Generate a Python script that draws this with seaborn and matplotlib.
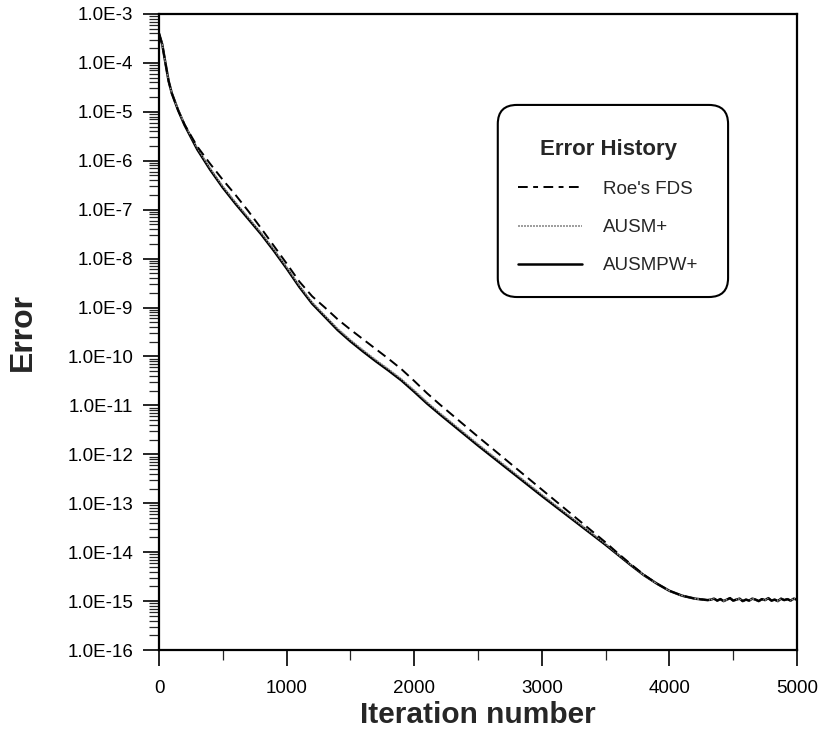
import numpy as np
import pandas as pd
import matplotlib
matplotlib.use("Agg")
import matplotlib.pyplot as plt
import seaborn as sns
from matplotlib.ticker import LogLocator, FuncFormatter, MultipleLocator, NullFormatter
from matplotlib.lines import Line2D
from matplotlib.patches import FancyBboxPatch

# ---------------- data ----------------
iterations = [0, 25, 50, 75, 100, 150, 200, 300, 400, 500, 600, 700, 800, 900,
              1000, 1100, 1200, 1300, 1400, 1500, 1600, 1700, 1800, 1900, 2000,
              2100, 2200, 2500, 3000, 3500, 3600, 3700, 3800, 3900, 4000, 4100,
              4200, 4300]
plateau_iterations = [4325, 4350, 4375, 4400, 4425, 4450, 4475, 4500, 4525, 4550,
                      4575, 4600, 4625, 4650, 4675, 4700, 4725, 4750, 4775, 4800,
                      4825, 4850, 4875, 4900, 4925, 4950, 4975, 5000]
plateau_log_error = [-14.97, -14.95, -14.99, -14.96, -15.00, -14.97, -14.94, -14.99,
                     -14.97, -14.95, -15.00, -14.97, -14.99, -14.95, -14.97, -15.00,
                     -14.96, -14.98, -14.94, -14.99, -14.97, -15.00, -14.95, -14.98,
                     -14.96, -14.99, -14.95, -14.97]

roe_log_error = [-3.40, -3.62, -4.00, -4.37, -4.62, -4.97, -5.26, -5.71, -6.06, -6.39,
                 -6.70, -7.03, -7.38, -7.74, -8.10, -8.47, -8.77, -9.00, -9.24, -9.45,
                 -9.65, -9.85, -10.05, -10.26, -10.50, -10.75, -10.98, -11.64, -12.72,
                 -13.80, -14.03, -14.25, -14.46, -14.64, -14.79, -14.89, -14.95, -14.98]
ausm_log_error = [-3.40, -3.62, -4.00, -4.37, -4.62, -4.96, -5.25, -5.74, -6.15, -6.52,
                  -6.85, -7.16, -7.47, -7.81, -8.17, -8.55, -8.89, -9.16, -9.43, -9.66,
                  -9.87, -10.07, -10.26, -10.46, -10.69, -10.93, -11.15, -11.79, -12.82,
                  -13.83, -14.05, -14.26, -14.47, -14.64, -14.79, -14.89, -14.95, -14.98]
ausmpw_log_error = [-3.40, -3.62, -4.00, -4.37, -4.62, -4.97, -5.27, -5.77, -6.18, -6.55,
                    -6.88, -7.19, -7.50, -7.84, -8.20, -8.58, -8.92, -9.19, -9.46, -9.69,
                    -9.90, -10.10, -10.29, -10.49, -10.72, -10.96, -11.18, -11.82, -12.85,
                    -13.85, -14.06, -14.27, -14.47, -14.64, -14.79, -14.89, -14.95, -14.98]

schemes = ["Roe's FDS", "AUSM+", "AUSMPW+"]
y_decades = [-16, -15, -14, -13, -12, -11, -10, -9, -8, -7, -6, -5, -4, -3]
x_ticks = [0, 1000, 2000, 3000, 4000, 5000]

# ---------------- build frame ----------------
all_iter = iterations + plateau_iterations
frames = []
for name, vals in zip(schemes, [roe_log_error, ausm_log_error, ausmpw_log_error]):
    logs = np.array(vals + plateau_log_error)
    frames.append(pd.DataFrame({"Iteration": all_iter, "Error": 10.0 ** logs, "Scheme": name}))
df = pd.concat(frames, ignore_index=True)

sns.set_theme(style="ticks")
plt.rcParams['font.family'] = ['Liberation Sans', 'DejaVu Sans']

fig = plt.figure(figsize=(8.27, 7.32), dpi=100)
ax = fig.add_axes([0.1923, 0.112, 0.7714, 0.8689])

styles = {
    "AUSMPW+": dict(color="black", lw=1.8, ls="-"),
    "AUSM+": dict(color="0.55", lw=1.1, ls=(0, (1.2, 0.6))),
    "Roe's FDS": dict(color="black", lw=1.4, ls=(0, (5, 2.8))),
}
for name in ["AUSMPW+", "AUSM+", "Roe's FDS"]:
    st = styles[name]
    sns.lineplot(data=df[df["Scheme"] == name], x="Iteration", y="Error", ax=ax,
                 color=st["color"], linewidth=st["lw"], linestyle=st["ls"],
                 legend=False, estimator=None)

ax.set_yscale("log")
ax.set_ylim(10.0 ** y_decades[0], 10.0 ** y_decades[-1])
ax.set_xlim(x_ticks[0], x_ticks[-1])
ax.set_yticks([10.0 ** d for d in y_decades])
ax.yaxis.set_major_formatter(FuncFormatter(lambda v, p: "1.0E%d" % int(round(np.log10(v)))))
ax.yaxis.set_minor_locator(LogLocator(base=10, subs=np.arange(2, 10), numticks=100))
ax.yaxis.set_minor_formatter(NullFormatter())
ax.set_xticks(x_ticks)
ax.xaxis.set_minor_locator(MultipleLocator(500))

for s in ax.spines.values():
    s.set_visible(True)
    s.set_linewidth(1.6)
    s.set_color("black")

ax.tick_params(axis="both", which="major", direction="out", length=11.5, width=1.2,
               colors="black", labelsize=13.5, top=False, right=False)
ax.tick_params(axis="y", which="major", pad=7)
ax.tick_params(axis="x", which="major", pad=10)
ax.tick_params(axis="both", which="minor", direction="out", length=7.5, width=0.9,
               top=False, right=False)

ax.set_xlabel("Iteration number", fontsize=21.5, fontweight="bold")
ax.set_ylabel("Error", fontsize=23, fontweight="bold")
ax.xaxis.set_label_coords(0.5, -0.080)
ax.yaxis.set_label_coords(-0.19, 0.5)

# legend box with rounded corners
box = FancyBboxPatch((0.531, 0.555), 0.361, 0.302, transform=ax.transAxes,
                     boxstyle="round,pad=0,rounding_size=0.03",
                     facecolor="white", edgecolor="black", linewidth=1.5, zorder=4)
ax.add_patch(box)

handles = [
    Line2D([], [], color="black", lw=1.4, ls=(0, (5, 2.8, 2.5, 2.8))),
    Line2D([], [], color="0.55", lw=1.2, ls=(0, (1.2, 0.6))),
    Line2D([], [], color="black", lw=1.8, ls="-"),
]
leg = ax.legend(handles, schemes, title="Error History", loc="center",
                bbox_to_anchor=(0.704, 0.697), frameon=False, fontsize=13.5,
                handlelength=3.45, handletextpad=1.1, labelspacing=1.12,
                title_fontproperties={"weight": "bold", "size": 16})
leg.set_zorder(5)
leg._legend_box.sep = 15

fig.savefig("out.png", dpi=100, facecolor="white")
